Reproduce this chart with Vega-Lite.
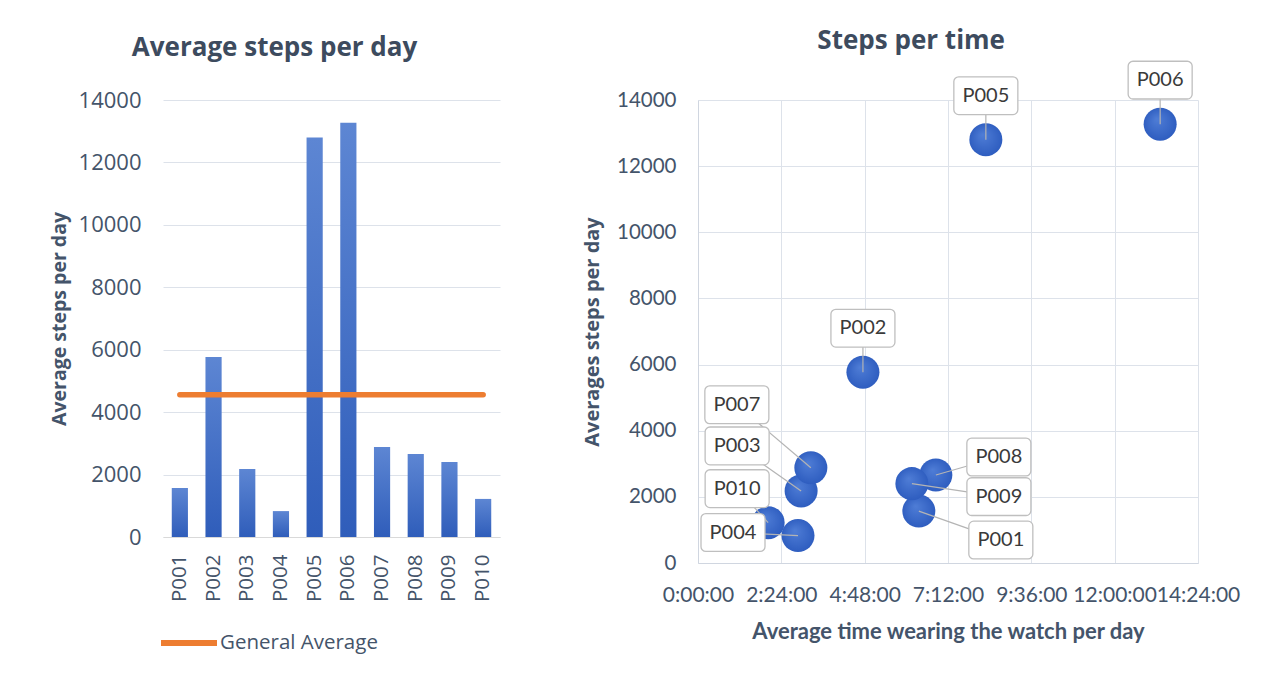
{
  "$schema": "https://vega.github.io/schema/vega-lite/v6.json",
  "background": "white",
  "padding": {"left": 49, "top": 27, "right": 5, "bottom": 5},
  "spacing": 198,
  "bounds": "flush",
  "datasets": {
    "p": [
      {"id": "P001", "steps": 1570, "hours": 6.36, "avg": 4560},
      {"id": "P002", "steps": 5770, "hours": 4.75, "avg": 4560},
      {"id": "P003", "steps": 2180, "hours": 2.97, "avg": 4560},
      {"id": "P004", "steps": 830, "hours": 2.88, "avg": 4560},
      {"id": "P005", "steps": 12800, "hours": 8.29, "avg": 4560},
      {"id": "P006", "steps": 13270, "hours": 13.31, "avg": 4560},
      {"id": "P007", "steps": 2880, "hours": 3.25, "avg": 4560},
      {"id": "P008", "steps": 2660, "hours": 6.85, "avg": 4560},
      {"id": "P009", "steps": 2400, "hours": 6.16, "avg": 4560},
      {"id": "P010", "steps": 1220, "hours": 2.02, "avg": 4560}
    ]
  },
  "config": {
    "view": {"stroke": null},
    "title": {"font": "Open Sans", "fontSize": 26, "fontWeight": "bold", "color": "#3D4B5E", "anchor": "middle", "frame": "bounds"},
    "axis": {"labelColor": "#44546A", "titleColor": "#44546A", "titleFont": "Open Sans", "titleFontWeight": "bold", "titleFontSize": 19.5, "ticks": false, "gridColor": "#DDE2EA", "domainColor": "#D0D6E0"}
  },
  "hconcat": [
    {
      "width": 337,
      "height": 437,
      "title": {"text": "Average steps per day", "offset": 28},
      "data": {"name": "p"},
      "encoding": {
        "x": {"field": "id", "type": "nominal", "sort": null,
          "scale": {"paddingInner": 0.52, "paddingOuter": 0.26},
          "axis": {"title": null, "labelAngle": -90, "labelFont": "Open Sans", "labelFontSize": 20.5, "labelPadding": 17, "domain": true, "domainColor": "#D9D9D9", "labelBaseline": "middle"}}
      },
      "layer": [
        {
          "mark": {"type": "bar", "color": {"gradient": "linear", "x1": 0, "y1": 0, "x2": 0, "y2": 1, "stops": [{"offset": 0, "color": "#5D86D3"}, {"offset": 1, "color": "#2F5DBA"}]}},
          "encoding": {
            "y": {"field": "steps", "type": "quantitative",
              "scale": {"domain": [0, 14000], "nice": false},
              "axis": {"title": "Average steps per day", "format": "d", "values": [0, 2000, 4000, 6000, 8000, 10000, 12000, 14000], "labelFont": "Open Sans", "labelFontSize": 22, "labelPadding": 22, "titlePadding": 9, "domain": false, "grid": true}}
          }
        },
        {
          "mark": {"type": "line", "strokeWidth": 5.5, "strokeCap": "round"},
          "encoding": {
            "y": {"field": "avg", "type": "quantitative"},
            "color": {"datum": "General Average", "type": "nominal",
              "scale": {"range": ["#ED7D31"]},
              "legend": {"title": null, "orient": "none", "legendX": -5, "legendY": 512, "symbolType": "stroke", "symbolSize": 3136, "symbolStrokeWidth": 6, "labelFont": "Open Sans", "labelFontSize": 20.5, "labelColor": "#44546A", "labelOffset": 0}}
          }
        }
      ]
    },
    {
      "width": 500,
      "height": 463,
      "title": {"text": "Steps per time", "offset": 5},
      "data": {"name": "p"},
      "encoding": {
        "x": {"field": "hours", "type": "quantitative",
          "scale": {"domain": [0, 14.4], "nice": false},
          "axis": {"title": "Average time wearing the watch per day", "titleFont": "Lato", "titleFontSize": 22, "titlePadding": 16, "values": [0, 2.4, 4.8, 7.2, 9.6, 12, 14.4], "labelExpr": "utcFormat(datum.value * 3600000, '%-H:%M:%S')", "labelFont": "Lato", "labelFontSize": 21, "labelPadding": 21, "grid": true, "domain": true, "labelFlush": false, "labelOverlap": false}},
        "y": {"field": "steps", "type": "quantitative",
          "scale": {"domain": [0, 14000], "nice": false},
          "axis": {"title": "Averages steps per day", "format": "d", "titleFontSize": 20, "values": [0, 2000, 4000, 6000, 8000, 10000, 12000, 14000], "labelFont": "Lato", "labelFontSize": 20.5, "labelPadding": 22, "titlePadding": 14, "grid": true, "domain": true}}
      },
      "layer": [
        {
          "mark": {"type": "point", "shape": "circle", "filled": true, "size": 1090, "opacity": 1,
            "color": {"gradient": "radial", "x1": 0.4, "y1": 0.35, "r1": 0, "x2": 0.5, "y2": 0.5, "r2": 0.55, "stops": [{"offset": 0, "color": "#4F7DD6"}, {"offset": 1, "color": "#2C5BBE"}]}}
        },
        {
          "transform": [{"filter": "indexof(['P002','P005','P006'], datum.id) >= 0"}],
          "layer": [
            {"mark": {"type": "rule", "color": "#B4B4B4", "strokeWidth": 1.2, "x2Offset": 0, "y2Offset": -44}, "encoding": {"x2": {"field": "hours"}, "y2": {"field": "steps"}}},
            {"mark": {"type": "point", "shape": "M-0.85,-0.59H0.85A0.15,0.15,0,0,1,1,-0.44V0.44A0.15,0.15,0,0,1,0.85,0.59H-0.85A0.15,0.15,0,0,1,-1,0.44V-0.44A0.15,0.15,0,0,1,-0.85,-0.59Z", "size": 4096, "filled": false, "fill": "white", "fillOpacity": 1, "stroke": "#BFBFBF", "strokeWidth": 1.3, "opacity": 1, "xOffset": 0, "yOffset": -44}},
            {"mark": {"type": "text", "font": "Lato", "fontSize": 20, "color": "#3A3A3A", "xOffset": 0, "yOffset": -44, "baseline": "middle", "align": "center"}, "encoding": {"text": {"field": "id"}}}
          ]
        },
        {
          "transform": [{"filter": "datum.id == 'P007'"}],
          "layer": [
            {"mark": {"type": "rule", "color": "#B4B4B4", "strokeWidth": 1.2, "x2Offset": -74, "y2Offset": -63}, "encoding": {"x2": {"field": "hours"}, "y2": {"field": "steps"}}},
            {"mark": {"type": "point", "shape": "M-0.85,-0.59H0.85A0.15,0.15,0,0,1,1,-0.44V0.44A0.15,0.15,0,0,1,0.85,0.59H-0.85A0.15,0.15,0,0,1,-1,0.44V-0.44A0.15,0.15,0,0,1,-0.85,-0.59Z", "size": 4096, "filled": false, "fill": "white", "fillOpacity": 1, "stroke": "#BFBFBF", "strokeWidth": 1.3, "opacity": 1, "xOffset": -74, "yOffset": -63}},
            {"mark": {"type": "text", "font": "Lato", "fontSize": 20, "color": "#3A3A3A", "xOffset": -74, "yOffset": -63, "baseline": "middle", "align": "center"}, "encoding": {"text": {"field": "id"}}}
          ]
        },
        {
          "transform": [{"filter": "datum.id == 'P003'"}],
          "layer": [
            {"mark": {"type": "rule", "color": "#B4B4B4", "strokeWidth": 1.2, "x2Offset": -64, "y2Offset": -45}, "encoding": {"x2": {"field": "hours"}, "y2": {"field": "steps"}}},
            {"mark": {"type": "point", "shape": "M-0.85,-0.59H0.85A0.15,0.15,0,0,1,1,-0.44V0.44A0.15,0.15,0,0,1,0.85,0.59H-0.85A0.15,0.15,0,0,1,-1,0.44V-0.44A0.15,0.15,0,0,1,-0.85,-0.59Z", "size": 4096, "filled": false, "fill": "white", "fillOpacity": 1, "stroke": "#BFBFBF", "strokeWidth": 1.3, "opacity": 1, "xOffset": -64, "yOffset": -45}},
            {"mark": {"type": "text", "font": "Lato", "fontSize": 20, "color": "#3A3A3A", "xOffset": -64, "yOffset": -45, "baseline": "middle", "align": "center"}, "encoding": {"text": {"field": "id"}}}
          ]
        },
        {
          "transform": [{"filter": "datum.id == 'P010'"}],
          "layer": [
            {"mark": {"type": "rule", "color": "#B4B4B4", "strokeWidth": 1.2, "x2Offset": -31, "y2Offset": -34}, "encoding": {"x2": {"field": "hours"}, "y2": {"field": "steps"}}},
            {"mark": {"type": "point", "shape": "M-0.85,-0.59H0.85A0.15,0.15,0,0,1,1,-0.44V0.44A0.15,0.15,0,0,1,0.85,0.59H-0.85A0.15,0.15,0,0,1,-1,0.44V-0.44A0.15,0.15,0,0,1,-0.85,-0.59Z", "size": 4096, "filled": false, "fill": "white", "fillOpacity": 1, "stroke": "#BFBFBF", "strokeWidth": 1.3, "opacity": 1, "xOffset": -31, "yOffset": -34}},
            {"mark": {"type": "text", "font": "Lato", "fontSize": 20, "color": "#3A3A3A", "xOffset": -31, "yOffset": -34, "baseline": "middle", "align": "center"}, "encoding": {"text": {"field": "id"}}}
          ]
        },
        {
          "transform": [{"filter": "datum.id == 'P004'"}],
          "layer": [
            {"mark": {"type": "rule", "color": "#B4B4B4", "strokeWidth": 1.2, "x2Offset": -65, "y2Offset": -3}, "encoding": {"x2": {"field": "hours"}, "y2": {"field": "steps"}}},
            {"mark": {"type": "point", "shape": "M-0.85,-0.59H0.85A0.15,0.15,0,0,1,1,-0.44V0.44A0.15,0.15,0,0,1,0.85,0.59H-0.85A0.15,0.15,0,0,1,-1,0.44V-0.44A0.15,0.15,0,0,1,-0.85,-0.59Z", "size": 4096, "filled": false, "fill": "white", "fillOpacity": 1, "stroke": "#BFBFBF", "strokeWidth": 1.3, "opacity": 1, "xOffset": -65, "yOffset": -3}},
            {"mark": {"type": "text", "font": "Lato", "fontSize": 20, "color": "#3A3A3A", "xOffset": -65, "yOffset": -3, "baseline": "middle", "align": "center"}, "encoding": {"text": {"field": "id"}}}
          ]
        },
        {
          "transform": [{"filter": "datum.id == 'P008'"}],
          "layer": [
            {"mark": {"type": "rule", "color": "#B4B4B4", "strokeWidth": 1.2, "x2Offset": 63, "y2Offset": -18}, "encoding": {"x2": {"field": "hours"}, "y2": {"field": "steps"}}},
            {"mark": {"type": "point", "shape": "M-0.85,-0.59H0.85A0.15,0.15,0,0,1,1,-0.44V0.44A0.15,0.15,0,0,1,0.85,0.59H-0.85A0.15,0.15,0,0,1,-1,0.44V-0.44A0.15,0.15,0,0,1,-0.85,-0.59Z", "size": 4096, "filled": false, "fill": "white", "fillOpacity": 1, "stroke": "#BFBFBF", "strokeWidth": 1.3, "opacity": 1, "xOffset": 63, "yOffset": -18}},
            {"mark": {"type": "text", "font": "Lato", "fontSize": 20, "color": "#3A3A3A", "xOffset": 63, "yOffset": -18, "baseline": "middle", "align": "center"}, "encoding": {"text": {"field": "id"}}}
          ]
        },
        {
          "transform": [{"filter": "datum.id == 'P009'"}],
          "layer": [
            {"mark": {"type": "rule", "color": "#B4B4B4", "strokeWidth": 1.2, "x2Offset": 87, "y2Offset": 13}, "encoding": {"x2": {"field": "hours"}, "y2": {"field": "steps"}}},
            {"mark": {"type": "point", "shape": "M-0.85,-0.59H0.85A0.15,0.15,0,0,1,1,-0.44V0.44A0.15,0.15,0,0,1,0.85,0.59H-0.85A0.15,0.15,0,0,1,-1,0.44V-0.44A0.15,0.15,0,0,1,-0.85,-0.59Z", "size": 4096, "filled": false, "fill": "white", "fillOpacity": 1, "stroke": "#BFBFBF", "strokeWidth": 1.3, "opacity": 1, "xOffset": 87, "yOffset": 13}},
            {"mark": {"type": "text", "font": "Lato", "fontSize": 20, "color": "#3A3A3A", "xOffset": 87, "yOffset": 13, "baseline": "middle", "align": "center"}, "encoding": {"text": {"field": "id"}}}
          ]
        },
        {
          "transform": [{"filter": "datum.id == 'P001'"}],
          "layer": [
            {"mark": {"type": "rule", "color": "#B4B4B4", "strokeWidth": 1.2, "x2Offset": 82, "y2Offset": 29}, "encoding": {"x2": {"field": "hours"}, "y2": {"field": "steps"}}},
            {"mark": {"type": "point", "shape": "M-0.85,-0.59H0.85A0.15,0.15,0,0,1,1,-0.44V0.44A0.15,0.15,0,0,1,0.85,0.59H-0.85A0.15,0.15,0,0,1,-1,0.44V-0.44A0.15,0.15,0,0,1,-0.85,-0.59Z", "size": 4096, "filled": false, "fill": "white", "fillOpacity": 1, "stroke": "#BFBFBF", "strokeWidth": 1.3, "opacity": 1, "xOffset": 82, "yOffset": 29}},
            {"mark": {"type": "text", "font": "Lato", "fontSize": 20, "color": "#3A3A3A", "xOffset": 82, "yOffset": 29, "baseline": "middle", "align": "center"}, "encoding": {"text": {"field": "id"}}}
          ]
        }
      ]
    }
  ]
}
